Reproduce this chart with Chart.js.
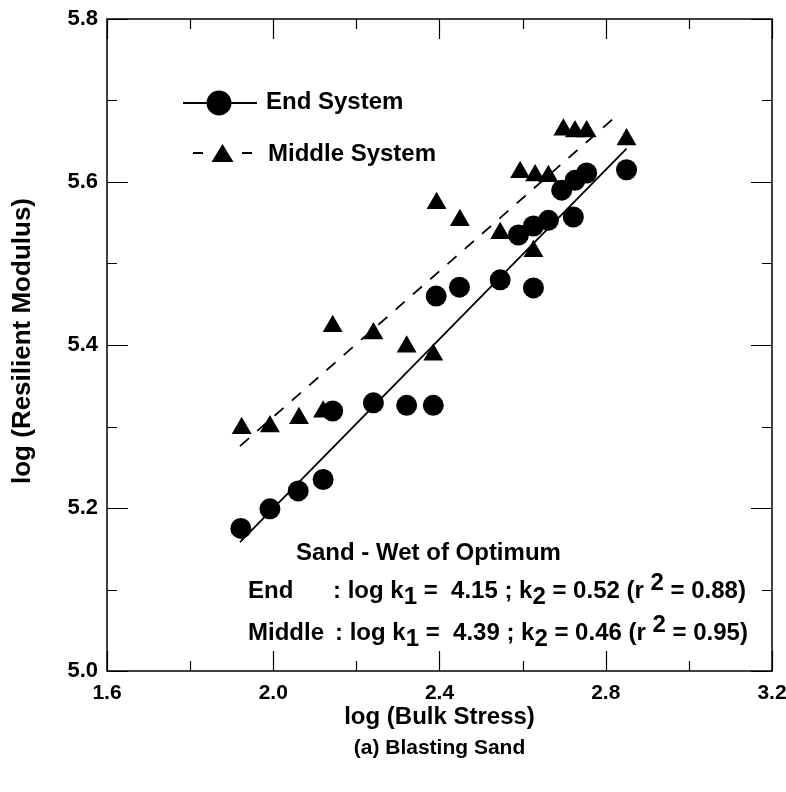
<!DOCTYPE html>
<html>
<head>
<meta charset="utf-8">
<title>log (Resilient Modulus) vs log (Bulk Stress)</title>
<script src="https://cdn.jsdelivr.net/npm/chart.js@4.4.1/dist/chart.umd.min.js"></script>
<style>
  html, body { margin: 0; padding: 0; background: #fff; }
  #wrap { width: 786px; height: 792px; position: relative; }
</style>
</head>
<body>
<div id="wrap"><canvas id="chart"></canvas></div>
<script>
// End system measurements (circles)
const endX = [1.922, 1.992, 2.060, 2.120, 2.143, 2.241, 2.321, 2.385, 2.392, 2.448,
              2.546, 2.626, 2.590, 2.626, 2.662, 2.722, 2.694, 2.726, 2.754, 2.850];
const endY = [5.175, 5.199, 5.221, 5.235, 5.319, 5.329, 5.326, 5.326, 5.460, 5.471,
              5.480, 5.470, 5.535, 5.546, 5.553, 5.557, 5.590, 5.602, 5.611, 5.615];

// Middle system measurements (triangles)
const midX = [1.924, 1.992, 2.062, 2.120, 2.143, 2.241, 2.321, 2.385, 2.393, 2.449,
              2.546, 2.626, 2.594, 2.630, 2.662, 2.698, 2.726, 2.754, 2.850];
const midY = [5.298, 5.300, 5.310, 5.318, 5.423, 5.414, 5.398, 5.388, 5.574, 5.553,
              5.537, 5.515, 5.612, 5.608, 5.607, 5.664, 5.662, 5.662, 5.652];

// fitted lines (end points)
const endFitX = [1.92, 2.85];
const endFitY = [5.158, 5.641];
const midFitX = [1.92, 2.83];
const midFitY = [5.276, 5.683];

// axes
const xTicks = [1.6, 2.0, 2.4, 2.8, 3.2];
const xMinor = [1.8, 2.2, 2.6, 3.0];
const yTicks = [5.0, 5.2, 5.4, 5.6, 5.8];
const yMinor = [5.1, 5.3, 5.5, 5.7];

const FONT = "'Liberation Sans', Arial, Helvetica, sans-serif";

const pts = (xs, ys) => xs.map((x, i) => ({ x: x, y: ys[i] }));

// box, inward tick marks, axis titles
const framePlugin = {
  id: "frame",
  beforeDatasetsDraw(chart) {
    const ctx = chart.ctx;
    const a = chart.chartArea;
    const xs = chart.scales.x, ys = chart.scales.y;
    ctx.save();
    ctx.strokeStyle = "#000";
    ctx.lineWidth = 1.5;
    ctx.strokeRect(a.left, a.top, a.right - a.left, a.bottom - a.top);
    ctx.lineWidth = 1.2;
    ctx.beginPath();
    const xt = (v, len) => {
      const px = Math.round(xs.getPixelForValue(v)) + 0.5;
      ctx.moveTo(px, a.bottom); ctx.lineTo(px, a.bottom - len);
      ctx.moveTo(px, a.top); ctx.lineTo(px, a.top + len);
    };
    const yt = (v, len) => {
      const py = Math.round(ys.getPixelForValue(v)) + 0.5;
      ctx.moveTo(a.left, py); ctx.lineTo(a.left + len, py);
      ctx.moveTo(a.right, py); ctx.lineTo(a.right - len, py);
    };
    xTicks.forEach(v => xt(v, 20));
    xMinor.forEach(v => xt(v, 10));
    yTicks.forEach(v => yt(v, 21));
    yMinor.forEach(v => yt(v, 10));
    ctx.stroke();
    ctx.restore();
  },
  afterDraw(chart) {
    const ctx = chart.ctx;
    const a = chart.chartArea;
    const cx = (a.left + a.right) / 2;
    ctx.save();
    ctx.fillStyle = "#000";
    ctx.textAlign = "center";
    ctx.textBaseline = "middle";
    ctx.font = "bold 24px " + FONT;
    ctx.fillText("log (Bulk Stress)", cx, 717);
    ctx.font = "bold 21px " + FONT;
    ctx.fillText("(a) Blasting Sand", cx, 748);
    ctx.translate(23, 341);
    ctx.rotate(-Math.PI / 2);
    ctx.font = "bold 26px " + FONT;
    ctx.fillText("log (Resilient Modulus)", 0, 0);
    ctx.restore();
  }
};

// legend and fit summary inside the plot
const notePlugin = {
  id: "notes",
  afterDraw(chart) {
    const ctx = chart.ctx;
    ctx.save();
    ctx.fillStyle = "#000";
    ctx.strokeStyle = "#000";

    // legend: End System
    ctx.lineWidth = 1.8;
    ctx.beginPath();
    ctx.moveTo(183, 103); ctx.lineTo(257, 103);
    ctx.stroke();
    ctx.beginPath();
    ctx.arc(219, 103, 12.5, 0, Math.PI * 2);
    ctx.fill();

    // legend: Middle System
    ctx.beginPath();
    ctx.moveTo(193, 153); ctx.lineTo(203, 153);
    ctx.moveTo(242, 153); ctx.lineTo(252, 153);
    ctx.stroke();
    ctx.beginPath();
    ctx.moveTo(222.5, 144); ctx.lineTo(233.5, 162); ctx.lineTo(211.5, 162);
    ctx.closePath();
    ctx.fill();

    ctx.font = "bold 24px " + FONT;
    ctx.textAlign = "left";
    ctx.textBaseline = "alphabetic";
    ctx.fillText("End System", 266, 109);
    ctx.fillText("Middle System", 268, 161);

    // fit summary
    ctx.fillText("Sand - Wet of Optimum", 296, 560);
    const runs = (x, y, list) => {
      list.forEach(r => {
        ctx.fillText(r[0], x, y + r[1]);
        x += ctx.measureText(r[0]).width;
      });
    };
    ctx.fillText("End", 248, 598);
    runs(333, 598, [[": log k", 0], ["1", 6], [" =  4.15 ; k", 0], ["2", 6],
                    [" = 0.52 (r ", 0], ["2", -8], [" = 0.88)", 0]]);
    ctx.fillText("Middle", 248, 640);
    runs(335, 640, [[": log k", 0], ["1", 6], [" =  4.39 ; k", 0], ["2", 6],
                    [" = 0.46 (r ", 0], ["2", -8], [" = 0.95)", 0]]);
    ctx.restore();
  }
};

new Chart(document.getElementById("chart"), {
  type: "scatter",
  data: {
    datasets: [
      {
        label: "End fit",
        data: pts(endFitX, endFitY),
        showLine: true,
        borderColor: "#000",
        borderWidth: 1.8,
        pointRadius: 0,
        fill: false
      },
      {
        label: "Middle fit",
        data: pts(midFitX, midFitY),
        showLine: true,
        borderColor: "#000",
        borderWidth: 1.8,
        borderDash: [12, 11],
        pointRadius: 0,
        fill: false
      },
      {
        label: "End System",
        data: pts(endX, endY),
        pointStyle: "circle",
        pointRadius: 10.5,
        backgroundColor: "#000",
        borderColor: "#000",
        borderWidth: 0
      },
      {
        label: "Middle System",
        data: pts(midX, midY),
        pointStyle: "triangle",
        pointRadius: 11.5,
        backgroundColor: "#000",
        borderColor: "#000",
        borderWidth: 0
      }
    ]
  },
  options: {
    responsive: true,
    maintainAspectRatio: false,
    animation: false,
    layout: { padding: { left: 0, right: 14, top: 19, bottom: 0 } },
    plugins: {
      legend: { display: false },
      tooltip: { enabled: false }
    },
    scales: {
      x: {
        type: "linear",
        min: 1.6,
        max: 3.2,
        afterBuildTicks: s => { s.ticks = xTicks.map(v => ({ value: v })); },
        afterFit: s => { s.height = 121; s.paddingLeft = 0; s.paddingRight = 0; },
        grid: { display: false, drawTicks: false },
        border: { display: false },
        ticks: {
          padding: 10,
          color: "#000",
          maxRotation: 0,
          font: { family: FONT, size: 21, weight: "bold" },
          callback: v => v.toFixed(1)
        }
      },
      y: {
        type: "linear",
        min: 5.0,
        max: 5.8,
        afterBuildTicks: s => { s.ticks = yTicks.map(v => ({ value: v })); },
        afterFit: s => { s.width = 107; s.paddingTop = 0; s.paddingBottom = 0; },
        grid: { display: false, drawTicks: false },
        border: { display: false },
        ticks: {
          padding: 9,
          color: "#000",
          font: { family: FONT, size: 22, weight: "bold" },
          callback: v => v.toFixed(1)
        }
      }
    }
  },
  plugins: [framePlugin, notePlugin]
});
</script>
</body>
</html>
